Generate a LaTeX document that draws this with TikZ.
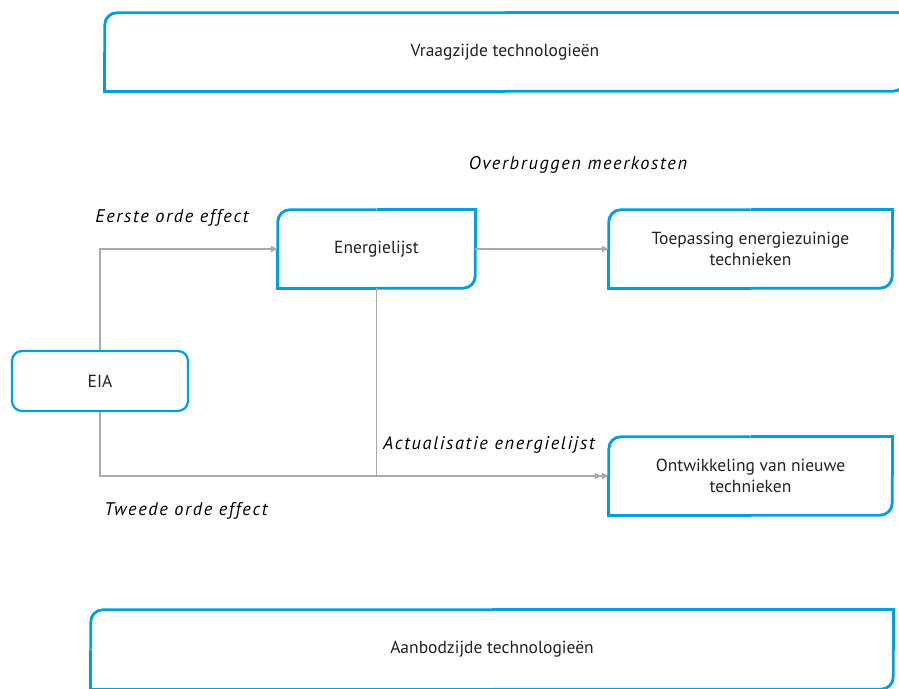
\documentclass[tikz,border=0pt]{standalone}
\usepackage{fontspec}
\setmainfont{PT Sans}
\newfontfamily\labfont{PT Sans}[LetterSpace=9]
\usetikzlibrary{arrows.meta}
\definecolor{boxblue}{RGB}{0,158,219}
\definecolor{linegray}{RGB}{170,170,170}
\definecolor{textdark}{RGB}{34,34,34}
\newcommand\tlbrbox[2]{%
 \draw[blueline,rounded corners=#2] (#1.west) -- (#1.north west) -- (#1.north);
 \draw[blueline] (#1.north) -- (#1.north east) -- (#1.east);
 \draw[blueline,rounded corners=#2] (#1.east) -- (#1.south east) -- (#1.south);
 \draw[blueline] (#1.south) -- (#1.south west) -- (#1.west);
}
\tikzset{
 blueline/.style={draw=boxblue,line width=2.8pt},
 boxnode/.style={inner sep=0pt,align=center,text=textdark,font=\fontsize{17.5}{21.5}\selectfont},
 conn/.style={draw=linegray,line width=1.4pt},
 tip/.style={-{Triangle[length=7pt,width=6pt]}},
 dtip/.style={-{Triangle[length=7pt,width=6pt]Triangle[length=7pt,width=6pt]}},
 lab/.style={font=\labfont\fontsize{18.3}{20}\selectfont\itshape,text=black,inner sep=0pt}
}
\begin{document}
\begin{tikzpicture}[x=1pt,y=-1pt]
\useasboundingbox (0,0) rectangle (899,688);
\node[boxnode,minimum width=800pt,minimum height=78pt] (top) at (505,52) {Vraagzijde technologieën};
\node[boxnode,minimum width=197pt,minimum height=78pt] (energ) at (376.5,249) {Energielijst};
\node[boxnode,minimum width=283pt,minimum height=78pt] (toep) at (750.5,249) {Toepassing energiezuinige\\technieken};
\node[boxnode,minimum width=176pt,minimum height=60pt,draw=boxblue,line width=2.2pt,rounded corners=10pt] (eia) at (100,381) {EIA};
\node[boxnode,minimum width=283pt,minimum height=78pt] (ontw) at (750.5,476) {Ontwikkeling van nieuwe\\technieken};
\node[boxnode,minimum width=802pt,minimum height=79pt] (bot) at (492,649.5) {Aanbodzijde technologieën};
\tlbrbox{top}{12pt}
\tlbrbox{energ}{12pt}
\tlbrbox{toep}{12pt}
\tlbrbox{ontw}{12pt}
\tlbrbox{bot}{12pt}
\draw[conn,tip] (eia.north) |- (energ.west);
\draw[conn,tip] (energ.east) -- (toep.west);
\draw[conn,dtip] (eia.south) |- (ontw.west);
\draw[conn] (energ.south) -- (energ.south |- ontw.west);
\node[lab] (l1) at (578,165) {Overbruggen meerkosten};
\node[lab] (l2) at (172,217.5) {Eerste orde effect};
\node[lab] (l3) at (489,445) {Actualisatie energielijst};
\node[lab] (l4) at (186,511) {Tweede orde effect};
\end{tikzpicture}
\end{document}
